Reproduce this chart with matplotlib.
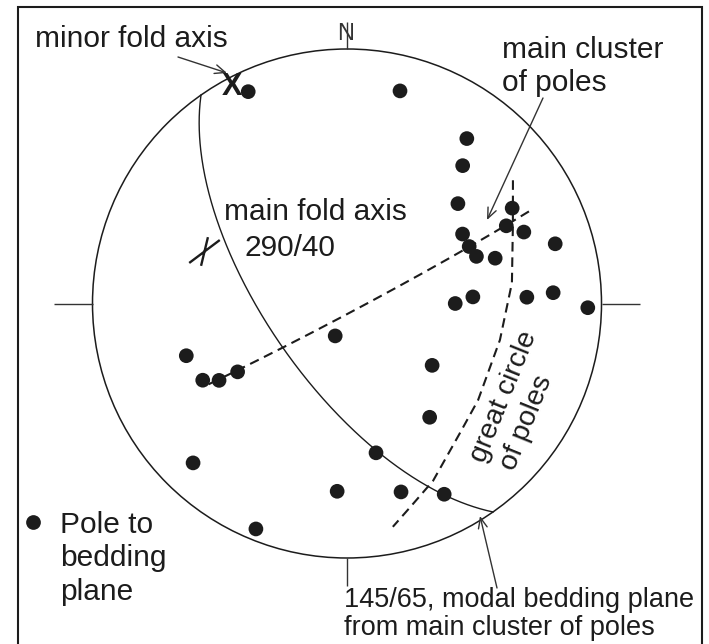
import numpy as np
import matplotlib
matplotlib.use("Agg")
import matplotlib.pyplot as plt
from matplotlib.patches import Circle, Rectangle
from matplotlib.path import Path

plt.rcParams['font.family'] = ['Liberation Sans', 'DejaVu Sans']

# Poles to bedding planes (trend, plunge in degrees)
pole_trend = [335, 14, 36, 40, 48, 60, 64, 68, 59, 65, 70, 73, 74, 90, 87, 88,
              87, 91, 126, 144, 169, 200, 252, 242, 239, 238, 224, 202, 183, 164, 153]
pole_plunge = [9, 15, 21, 30, 41, 26, 31, 26, 46, 46, 45, 39, 16, 55, 49, 30,
               20, 6, 56, 44, 40, 79, 34, 36, 41, 48, 14, 5, 27, 24, 17]

# Modal bedding plane of the main cluster (strike/dip, right-hand rule)
modal_strike, modal_dip = 145, 65

# Fold axes (trend/plunge)
fold_trend, fold_plunge = 290, 40
minor_trend, minor_plunge = 332, 4

# Steep great circle through the main cluster and the western poles
cluster_strike, cluster_dip = 62, 87
cluster_rake = (21, 143)

# Traced great circle of poles (trend/plunge along the curve)
girdle_trend = [53.4, 64.7, 82.9, 103.4, 126.4, 138.8, 154.1, 162.8, 168.4]
girdle_plunge = [19.9, 28.7, 35.0, 38.2, 36.2, 33.0, 23.6, 17.3, 11.4]


def net_xy(trend, plunge):
    """Lower-hemisphere Lambert equal-area projection on a unit primitive."""
    t = np.radians(np.asarray(trend, float))
    p = np.radians(np.asarray(plunge, float))
    r = np.sqrt(2.0) * np.sin((np.pi / 2 - p) / 2)
    return r * np.sin(t), r * np.cos(t)


def plane_xy(strike, dip, rake0=0.0, rake1=180.0, n=300):
    rake = np.radians(np.linspace(rake0, rake1, n))
    d = np.radians(dip)
    plunge = np.degrees(np.arcsin(np.sin(d) * np.sin(rake)))
    trend = strike + np.degrees(np.arctan2(np.cos(d) * np.sin(rake), np.cos(rake)))
    return net_xy(trend, plunge)


W, H = 709, 644
CX, CY, R = 347.0, 303.5, 254.5
INK = '#1c1c1c'

fig = plt.figure(figsize=(W / 100, H / 100), dpi=100)
ax = fig.add_axes([0, 0, 1, 1])
ax.set_xlim(-CX / R, (W - CX) / R)
ax.set_ylim(-(H - CY) / R, CY / R)
ax.axis('off')


def P(px, py):
    """Page position (pixels from top-left) in net units."""
    return ((px - CX) / R, (CY - py) / R)


# frame
x0, y0 = P(18, 660)
ax.add_patch(Rectangle((x0, y0), (702 - 18) / R, (660 - 7) / R, fill=False,
                       lw=1.5, ec=INK, clip_on=False))

# primitive circle and cardinal ticks
ax.add_patch(Circle((0, 0), 1.0, fill=False, lw=1.1, ec=INK))
tick_kw = dict(color='#333333', lw=1.0, solid_capstyle='butt')
ax.plot([0, 0], [1.0, 1.106], **tick_kw)
ax.plot([0, 0], [-1.0, -1.11], **tick_kw)
ax.plot([-1.0, -1.153], [0, 0], **tick_kw)
ax.plot([1.0, 1.15], [0, 0], **tick_kw)
ax.text(-0.004, 1.058, 'N', ha='center', va='center', fontsize=17,
        color='#333333')

# modal bedding plane (solid great circle)
gx, gy = plane_xy(modal_strike, modal_dip)
ax.plot(gx, gy, color=INK, lw=1.0)

# dashed great circles
dash = (0, (4.6, 2.8))
cx_, cy_ = plane_xy(cluster_strike, cluster_dip, *cluster_rake)
ax.plot(cx_, cy_, color=INK, lw=1.5, linestyle=dash)
tx, ty = net_xy(girdle_trend, girdle_plunge)
ax.plot(tx, ty, color=INK, lw=1.5, linestyle=dash)

# poles to bedding
px_, py_ = net_xy(pole_trend, pole_plunge)
ax.scatter(px_, py_, s=112, color=INK, edgecolors='none', zorder=5)

# main fold axis cross
cross = Path([(-0.80, -0.60), (0.80, 0.60), (0.18, 0.75), (-0.18, -0.75)],
             [Path.MOVETO, Path.LINETO, Path.MOVETO, Path.LINETO])
fx, fy = net_xy(fold_trend, fold_plunge)
ax.plot(fx, fy, marker=cross, ms=22, mew=1.7, color=INK, zorder=6)

# minor fold axis
mx, my = net_xy(minor_trend, minor_plunge)
ax.text(mx, my, 'X', ha='center', va='center', fontsize=22,
        fontweight='bold', color=INK, zorder=6)

# labels
FS = 21.5
txt = dict(color=INK, va='baseline', ha='left')
ax.text(*P(35, 47), 'minor fold axis', fontsize=FS, **txt)
ax.text(*P(502, 58), 'main cluster', fontsize=FS, **txt)
ax.text(*P(502, 91), 'of poles', fontsize=FS, **txt)
ax.text(*P(224, 220), 'main fold axis', fontsize=FS, **txt)
ax.text(*P(245, 256), '290/40', fontsize=FS, **txt)
ax.text(*P(60, 533), 'Pole to', fontsize=FS, **txt)
ax.text(*P(60, 566), 'bedding', fontsize=FS, **txt)
ax.text(*P(60, 600), 'plane', fontsize=FS, **txt)
ax.text(*P(344, 607), '145/65, modal bedding plane', fontsize=19.5, **txt)
ax.text(*P(344, 635), 'from main cluster of poles', fontsize=19.5, **txt)
ax.text(*P(484, 464), 'great circle', fontsize=20.5, rotation=68,
        rotation_mode='anchor', **txt)
ax.text(*P(514, 472), 'of poles', fontsize=20.5, rotation=68,
        rotation_mode='anchor', **txt)

# legend symbol
ax.plot(*P(33, 522), marker='o', ms=10.6, color=INK, mec='none')

# leader arrows
arrow = dict(arrowstyle='->,head_length=0.75,head_width=0.32', lw=1.0,
             color='#333333', shrinkA=0, shrinkB=0, mutation_scale=10)
ax.annotate('', xy=P(227, 73), xytext=P(178, 57), arrowprops=arrow)
ax.annotate('', xy=P(487, 220), xytext=P(543, 98), arrowprops=arrow)
ax.annotate('', xy=P(480, 516), xytext=P(497, 588), arrowprops=arrow)

fig.savefig('out.png', dpi=100)
